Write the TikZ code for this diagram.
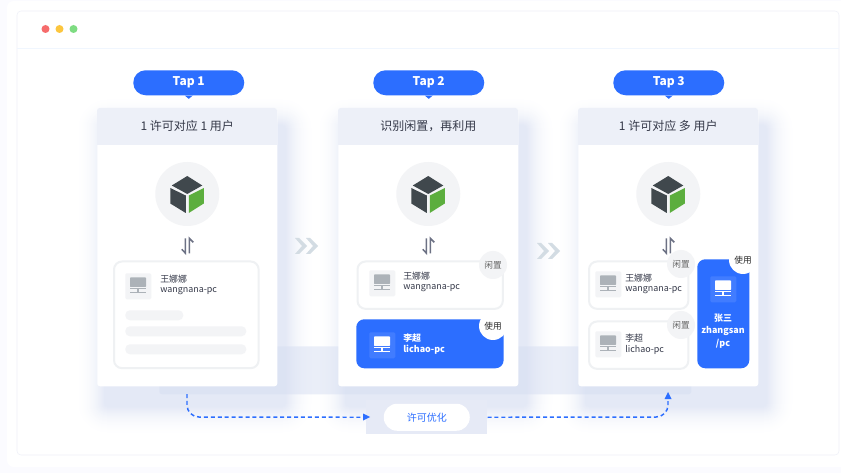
\documentclass[tikz,border=0pt]{standalone}
\usepackage{fontspec}
\setmainfont{Noto Sans CJK SC}
\usepackage{tikz}
\usetikzlibrary{calc}
\definecolor{pageblue}{RGB}{251,251,255}
\definecolor{framegray}{RGB}{238,240,248}
\definecolor{headline}{RGB}{240,246,254}
\definecolor{headfill}{RGB}{237,240,248}
\definecolor{bandfill}{RGB}{214,222,242}
\definecolor{optfill}{RGB}{230,234,246}
\definecolor{haze}{RGB}{176,190,228}
\definecolor{tapblue}{RGB}{44,110,255}
\definecolor{softgray}{RGB}{243,244,246}
\definecolor{linegray}{RGB}{239,241,243}
\definecolor{screengray}{RGB}{172,178,184}
\definecolor{cubedark}{RGB}{64,72,77}
\definecolor{cubegreen}{RGB}{92,174,62}
\definecolor{textdark}{RGB}{52,56,72}
\definecolor{chevron}{RGB}{211,220,227}
\definecolor{swapgray}{RGB}{108,113,132}
\definecolor{dotred}{RGB}{246,108,108}
\definecolor{dotyellow}{RGB}{252,198,62}
\definecolor{dotgreen}{RGB}{126,220,130}
\newcommand{\widthcard}{135pt}
\newcommand{\heightcard}{208.5pt}
\newcommand{\widthtap}{83.25pt}
\newcommand{\sizeicon}{19.5pt}
\tikzset{
    tap/.style={anchor=north west, fill=tapblue, text=white, rounded corners=9.3pt, minimum width=\widthtap, minimum height=18.75pt, inner sep=0pt, font=\fontsize{9}{9}\selectfont\bfseries},
    card/.style={anchor=north west, fill=white, rounded corners=2pt, minimum width=\widthcard, minimum height=\heightcard},
    headtext/.style={text=textdark, inner sep=0pt, font=\fontsize{9}{9}\selectfont},
    halo/.style={circle, fill=softgray, minimum size=48pt, inner sep=0pt},
    hostbox/.style={anchor=north west, draw=linegray, line width=1.5pt, fill=white, rounded corners=6pt, inner sep=0pt},
    hostblue/.style={anchor=north west, fill=tapblue, rounded corners=6pt, inner sep=0pt},
    iconbox/.style={anchor=north west, fill=softgray, rounded corners=1pt, minimum size=\sizeicon, inner sep=0pt},
    iconblue/.style={anchor=north west, fill=white, fill opacity=0.1, rounded corners=1pt, minimum size=\sizeicon, inner sep=0pt},
    who/.style={anchor=west, inner sep=0pt, text=textdark, font=\fontsize{6.7}{7}\selectfont},
    whowhite/.style={who, text=white, font=\fontsize{6.7}{7}\selectfont\bfseries},
    badge/.style={circle, minimum size=21pt, inner sep=0pt, font=\fontsize{6.5}{7}\selectfont},
    idle/.style={badge, fill=softgray, text=black!60},
    busy/.style={badge, fill=white, text=black!85},
    bar/.style={anchor=north west, fill=softgray, rounded corners=3.5pt, inner sep=0pt, minimum height=7.5pt},
    flow/.style={draw=tapblue, line width=1.1pt, dash pattern=on 3pt off 2.2pt, rounded corners=9pt},
    pics/cube/.style={code={
        \fill[cubedark] (0,-18) -- (15,-8.5) -- (0,0) -- (-15.5,-8.5) -- cycle;
        \fill[cubedark] (-17,-6) -- (-1.5,1.5) -- (-1.5,19) -- (-17,9.5) -- cycle;
        \fill[cubegreen] (1.5,1.5) -- (16.5,-6) -- (16.5,9.5) -- (1.5,19) -- cycle;
    }},
    pics/screen/.style={code={
        \fill[#1, rounded corners=0.5pt] (5,4.5) rectangle (21,14);
        \fill[#1] (5,15) rectangle (21,16.5);
        \fill[#1] (12.4,16.5) rectangle (13.6,19);
        \fill[#1] (5,19) rectangle (21,20.2);
    }},
    pics/swap/.style={code={
        \draw[swapgray, line width=1.1pt] (-1.8,-8) -- (-1.8,7) -- (-5.5,3);
        \draw[swapgray, line width=1.1pt] (2,7) -- (2,-8) -- (6,-4);
    }},
    pics/twice/.style={code={
        \fill[chevron] (0,0) -- (4,0) -- (12,8) -- (4,16) -- (0,16) -- (7,8) -- cycle;
        \fill[chevron] (11,0) -- (15,0) -- (23,8) -- (15,16) -- (11,16) -- (18,8) -- cycle;
    }}
}
\begin{document}
\begin{tikzpicture}[x=0.75pt, y=-0.75pt]
    \useasboundingbox (0,0) rectangle (841,473);
    \fill[pageblue] (0,0) rectangle (841,473);
    \fill[white, rounded corners=5pt] (7,1) rectangle (860,467);
    \draw[framegray, rounded corners=3pt] (17,11) rectangle (839,455);
    \draw[headline, line width=1pt] (17,48.5) -- (839,48.5);
    \fill[dotred] (45.5,29) circle (4);
    \fill[dotyellow] (59.5,29) circle (4);
    \fill[dotgreen] (73.5,29) circle (4);

    % soft glow round the three cards
    \foreach \x in {97, 338, 578} {
        \foreach \s in {30,29,...,1} {
            \pgfmathsetmacro{\tint}{36*(1-\s/30)*(1-\s/30)}
            \fill[haze!\tint!white, rounded corners={(\s+3)*0.75pt}]
                ({\x+8-\s},{126-\s}) rectangle ({\x+188+\s},{406+\s});
        }
    }
    % band and optimiser at the bottom
    \node[anchor=north west, fill=bandfill, fill opacity=0.5, rounded corners=2pt, minimum width=399pt, minimum height=36pt, inner sep=0pt] (band) at (159,346) {};
    \node[anchor=north west, fill=optfill, minimum width=90.75pt, minimum height=25.5pt, inner sep=0pt] (optbox) at (366,400) {};
    \node[fill=white, rounded corners=10pt, minimum width=64.5pt, minimum height=20.25pt, inner sep=0pt, text=tapblue, font=\fontsize{7.5}{8}\selectfont] (optpill) at (optbox.center) {许可优化};

    \foreach \x/\n/\p/\t/\w in {97/A/133/Tap 1/1 许可对应 1 用户, 338/B/373/Tap 2/识别闲置，再利用, 578/C/613/Tap 3/1 许可对应 多 用户} {
        \node[card] (card\n) at (\x,108) {};
        \fill[headfill, rounded corners=2pt] (card\n.north west) rectangle ++(180,20);
        \fill[headfill] ([yshift=-7.5pt]card\n.north west) rectangle ++(180,27);
        \node[headtext] (head\n) at ([yshift=-13.5pt]card\n.north) {\w};
        \node[tap] (tap\n) at (\p,70) {\t};
        \fill[tapblue] ([xshift=-3pt]tap\n.south) -- ([xshift=3pt]tap\n.south) -- ([yshift=-2.5pt]tap\n.south) -- cycle;
        \node[halo] (halo\n) at ([yshift=-64.5pt]card\n.north) {};
        \pic at (halo\n.center) {cube};
        \pic at ([yshift=-15pt]halo\n.south) {swap};
    }
    \pic at (295,238) {twice};
    \pic at (537,243) {twice};

    % first card
    \node[hostbox, minimum width=108.5pt, minimum height=80pt] (hostA) at (113,260.5) {};
    \node[iconbox] (iconA) at (125,273) {};
    \pic at (iconA.north west) {screen=screengray};
    \node[who] (nameA) at (160,279) {王娜娜};
    \node[who] (pcA) at (160,291) {wangnana-pc};
    \node[bar, minimum width=43.5pt] (barA) at (125,310) {};
    \node[bar, minimum width=90.75pt] (barB) at (125,326) {};
    \node[bar, minimum width=90.75pt] (barC) at (125,344) {};

    % second card
    \node[hostbox, minimum width=109pt, minimum height=35.5pt] (hostB) at (356.5,260.5) {};
    \node[iconbox] (iconB) at (369,270) {};
    \pic at (iconB.north west) {screen=screengray};
    \node[who] (nameB) at (403,276) {王娜娜};
    \node[who] (pcB) at (403,288) {wangnana-pc};
    \node[idle] (stateB) at (493,265) {闲置};
    \node[hostblue, minimum width=110.5pt, minimum height=36.75pt] (hostC) at (356,319) {};
    \node[iconblue] (iconC) at (369,332) {};
    \pic at (iconC.north west) {screen=white};
    \node[whowhite] (nameC) at (403,338) {李超};
    \node[whowhite] (pcC) at (403,350) {lichao-pc};
    \node[busy] (stateC) at (493,326) {使用};

    % third card
    \node[hostbox, minimum width=74.5pt, minimum height=35.5pt] (hostD) at (588,260.5) {};
    \node[iconbox] (iconD) at (595,271) {};
    \pic at (iconD.north west) {screen=screengray};
    \node[who] (nameD) at (625,278) {王娜娜};
    \node[who] (pcD) at (625,290) {wangnana-pc};
    \node[idle] (stateD) at (681,264) {闲置};
    \node[hostbox, minimum width=74.5pt, minimum height=35.5pt] (hostE) at (588,320.5) {};
    \node[iconbox] (iconE) at (595,331) {};
    \pic at (iconE.north west) {screen=screengray};
    \node[who] (nameE) at (625,338) {李超};
    \node[who] (pcE) at (625,350) {lichao-pc};
    \node[idle] (stateE) at (681,325) {闲置};
    \node[hostblue, minimum width=39pt, minimum height=81.75pt] (hostF) at (697,259) {};
    \node[iconblue] (iconF) at (710,276) {};
    \pic at (iconF.north west) {screen=white};
    \node[whowhite, anchor=center] (nameF) at (723,318) {张三};
    \node[whowhite, anchor=center] (pcF) at (723,331) {zhangsan};
    \node[whowhite, anchor=center] (pathF) at (723,344) {/pc};
    \node[busy] (stateF) at (743,260) {使用};

    % dashed flows
    \coordinate (flowA) at (187,394);
    \coordinate (flowB) at (668,392);
    \draw[flow] (flowA) -- (187,417) -- (optbox.west);
    \fill[tapblue] (370,417) -- (363,413.5) -- (363,420.5) -- cycle;
    \draw[flow] (optbox.east) -- (668,417) -- (flowB);
    \fill[tapblue] (flowB) -- (664.5,399) -- (671.5,399) -- cycle;
\end{tikzpicture}
\end{document}
